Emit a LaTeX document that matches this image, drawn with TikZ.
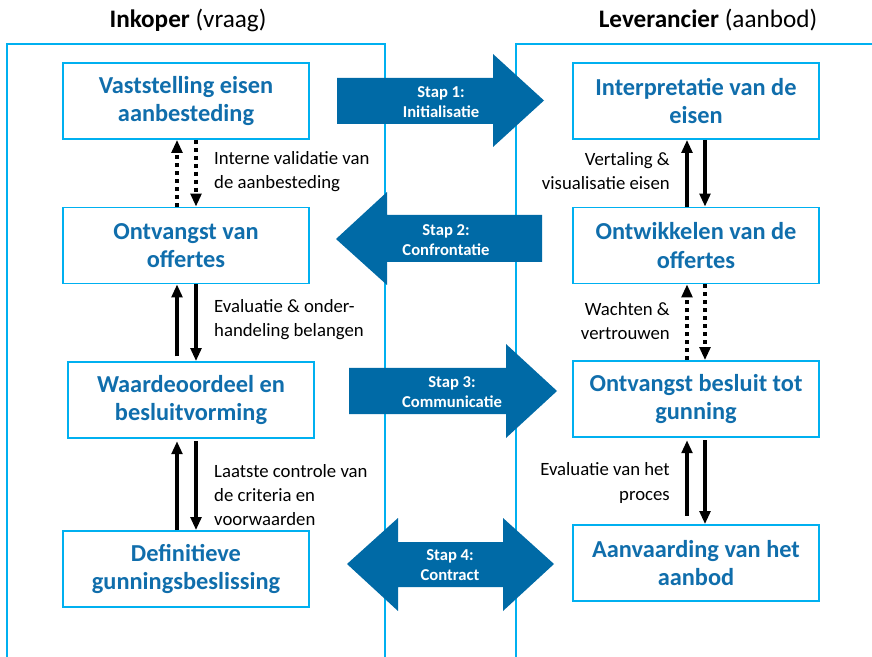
\documentclass[tikz,border=0pt]{standalone}
\usepackage{fontspec}
\setmainfont{Carlito}
\usetikzlibrary{arrows.meta}
\definecolor{kaderblauw}{RGB}{0,176,240}
\definecolor{tekstblauw}{RGB}{16,110,172}
\definecolor{pijlblauw}{RGB}{0,106,166}
\begin{document}
\begin{tikzpicture}[x=0.03cm, y=-0.03cm]
  % Define box, arrow and label styles
  \tikzstyle{mykader} = [draw=kaderblauw, line width=1.2pt]
  \tikzstyle{myboxfase} = [draw=kaderblauw, line width=1.5pt, fill=white,
  rectangle, minimum width=7.38cm, minimum height=2.28cm,
  align=center, text=tekstblauw, font=\fontsize{20.8}{24}\selectfont\bfseries]
  \tikzstyle{mytitel} = [font=\fontsize{21.5}{24}\selectfont]
  \tikzstyle{mylabel} = [font=\fontsize{16}{20.5}\selectfont, inner sep=0pt]
  \tikzstyle{mystap} = [text=white, align=center,
  font=\fontsize{14.2}{17}\selectfont\bfseries]
  \tikzstyle{mypijl} = [line width=3.4pt, -{Triangle[width=9pt, length=11pt]}]
  \tikzstyle{mystippel} = [mypijl, dash pattern=on 3.4pt off 3.4pt]

  \useasboundingbox (0,0) rectangle (872,657);

  % Kolommen
  \draw[mykader] (7,657) |- (385,44) -- (385,657);
  \draw[mykader] (516,657) |- (880,44);
  \node[mytitel] (inkoper) at (188,20) {\textbf{Inkoper} (vraag)};
  \node[mytitel] (leverancier) at (708,20) {\textbf{Leverancier} (aanbod)};

  % Fasen inkoper
  \node[myboxfase] (vaststelling) at (186,101) {Vaststelling eisen\\aanbesteding};
  \node[myboxfase] (ontvangstL) at (186,245.5) {Ontvangst van\\offertes};
  \node[myboxfase] (waardeoordeel) at (191,400) {Waardeoordeel en\\besluitvorming};
  \node[myboxfase] (definitief) at (186,569) {Definitieve\\gunningsbeslissing};

  % Fasen leverancier
  \node[myboxfase] (interpretatie) at (696,101) {Interpretatie van de\\eisen};
  \node[myboxfase] (ontwikkelen) at (696,245.5) {Ontwikkelen van de\\offertes};
  \node[myboxfase] (ontvangstR) at (696,399) {Ontvangst besluit tot\\gunning};
  \node[myboxfase] (aanvaarding) at (696,563) {Aanvaarding van het\\aanbod};

  % Lijnen voor de pijlen
  \coordinate (xl1) at (177,0);
  \coordinate (xl2) at (196,0);
  \coordinate (xr1) at (687,0);
  \coordinate (xr2) at (705,0);

  % Pijlen inkoper
  \draw[mystippel] (ontvangstL.north -| xl1) -- (vaststelling.south -| xl1);
  \draw[mystippel] (vaststelling.south -| xl2) -- (ontvangstL.north -| xl2);
  \draw[mypijl, shorten <=4pt] (waardeoordeel.north -| xl1) -- (ontvangstL.south -| xl1);
  \draw[mypijl] (ontvangstL.south -| xl2) -- (waardeoordeel.north -| xl2);
  \draw[mypijl, shorten >=2pt] (definitief.north -| xl1) -- (waardeoordeel.south -| xl1);
  \draw[mypijl, shorten <=2pt] (waardeoordeel.south -| xl2) -- (definitief.north -| xl2);

  % Pijlen leverancier
  \draw[mypijl] (ontwikkelen.north -| xr1) -- (interpretatie.south -| xr1);
  \draw[mypijl] (interpretatie.south -| xr2) -- (ontwikkelen.north -| xr2);
  \draw[mystippel] (ontvangstR.north -| xr1) -- (ontwikkelen.south -| xr1);
  \draw[mystippel] (ontwikkelen.south -| xr2) -- (ontvangstR.north -| xr2);
  \draw[mypijl, shorten <=7pt, shorten >=2pt] (aanvaarding.north -| xr1) -- (ontvangstR.south -| xr1);
  \draw[mypijl, shorten <=2pt] (ontvangstR.south -| xr2) -- (aanvaarding.north -| xr2);

  % Toelichting bij de pijlen
  \node[mylabel, anchor=west, align=left] (validatie) at (214,172)
  {Interne validatie van\\de aanbesteding};
  \node[mylabel, anchor=west, align=left] (evaluatie) at (214,320)
  {Evaluatie \& onder-\\handeling belangen};
  \node[mylabel, anchor=west, align=left] (controle) at (214,495)
  {Laatste controle van\\de criteria en\\voorwaarden};
  \node[mylabel, anchor=east, align=right] (vertaling) at (670,171)
  {Vertaling \&\\visualisatie eisen};
  \node[mylabel, anchor=east, align=right] (wachten) at (670,321)
  {Wachten \&\\vertrouwen};
  \node[mylabel, anchor=east, align=right] (proces) at (670,483)
  {Evaluatie van het\\proces};

  % Stappen tussen inkoper en leverancier
  \fill[pijlblauw] (337,78) -- (493,78) -- (493,54) -- (544,100.5)
  -- (493,147) -- (493,124) -- (337,124) -- cycle;
  \node[mystap] (stap1) at (441,102) {Stap 1:\\Initialisatie};

  \fill[pijlblauw] (542,215) -- (387,215) -- (387,192) -- (336,239)
  -- (387,285) -- (387,262) -- (542,262) -- cycle;
  \node[mystap] (stap2) at (446,240) {Stap 2:\\Confrontatie};

  \fill[pijlblauw] (349,368) -- (506,368) -- (506,344) -- (557,391)
  -- (506,438) -- (506,414) -- (349,414) -- cycle;
  \node[mystap] (stap3) at (452,392) {Stap 3:\\Communicatie};

  \fill[pijlblauw] (347,564) -- (398,518) -- (398,542) -- (503,542)
  -- (503,518) -- (554,564) -- (503,611) -- (503,587) -- (398,587)
  -- (398,611) -- cycle;
  \node[mystap] (stap4) at (450,565) {Stap 4:\\Contract};
\end{tikzpicture}
\end{document}
